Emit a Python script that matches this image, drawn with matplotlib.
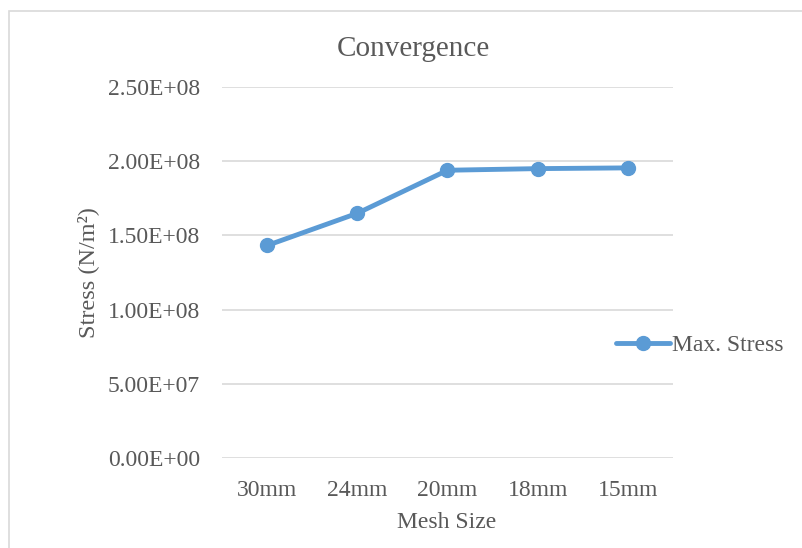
import matplotlib.pyplot as plt
from matplotlib.patches import Rectangle

mesh_sizes = ["30mm", "24mm", "20mm", "18mm", "15mm"]
max_stress = [1.432e8, 1.649e8, 1.939e8, 1.950e8, 1.955e8]
y_ticks = [0, 5e7, 1e8, 1.5e8, 2e8, 2.5e8]
y_tick_labels = ["0.00E+00", "5.00E+07", "1.00E+08", "1.50E+08", "2.00E+08", "2.50E+08"]

plt.rcParams['font.family'] = ['Liberation Serif', 'DejaVu Serif']
text_color = '#595959'
line_color = '#5B9BD5'

W, H = 803, 548
fig = plt.figure(figsize=(W / 100, H / 100), dpi=100)
ax = fig.add_axes([222 / W, 1 - 458 / H, (673 - 222) / W, (458 - 87) / H])

# chart area border (extends past right/bottom edges)
fig.patches.append(Rectangle((8.5 / W, -0.1), 1.2, 1 - 11 / H + 0.1,
                             transform=fig.transFigure, fill=False,
                             edgecolor='#D9D9D9', linewidth=1.2))

x = range(len(mesh_sizes))
ax.plot(x, max_stress, color=line_color, linewidth=3.5, marker='o',
        markersize=10, label='Max. Stress', solid_capstyle='round')

ax.set_xlim(-0.5, len(mesh_sizes) - 0.5)
ax.set_ylim(0, 2.5e8)
ax.set_xticks(list(x))
ax.set_xticklabels(mesh_sizes)
ax.set_yticks(y_ticks)
ax.set_yticklabels(y_tick_labels)
ax.grid(axis='y', color='#D9D9D9', linewidth=1.2)
ax.set_axisbelow(True)
for s in ax.spines.values():
    s.set_visible(False)
ax.tick_params(length=0, labelsize=17, colors=text_color)
ax.tick_params(axis='y', pad=16)
ax.tick_params(axis='x', pad=16)

fig.text(413 / W, 1 - 49 / H, 'Convergence', ha='center', va='center',
         fontsize=21, color=text_color)
fig.text(447 / W, 1 - 522 / H, 'Mesh Size', ha='center', va='center',
         fontsize=17, color=text_color)
fig.text(88 / W, 1 - 273 / H, 'Stress (N/m²)', ha='center', va='center',
         rotation=90, fontsize=17.5, color=text_color)

ax.legend(loc='center left', bbox_to_anchor=(604 / W, 1 - 345 / H),
          bbox_transform=fig.transFigure, frameon=False, fontsize=17,
          handlelength=2.3, handletextpad=0.1, borderpad=0, labelcolor=text_color)

fig.savefig('out.png', dpi=100)
